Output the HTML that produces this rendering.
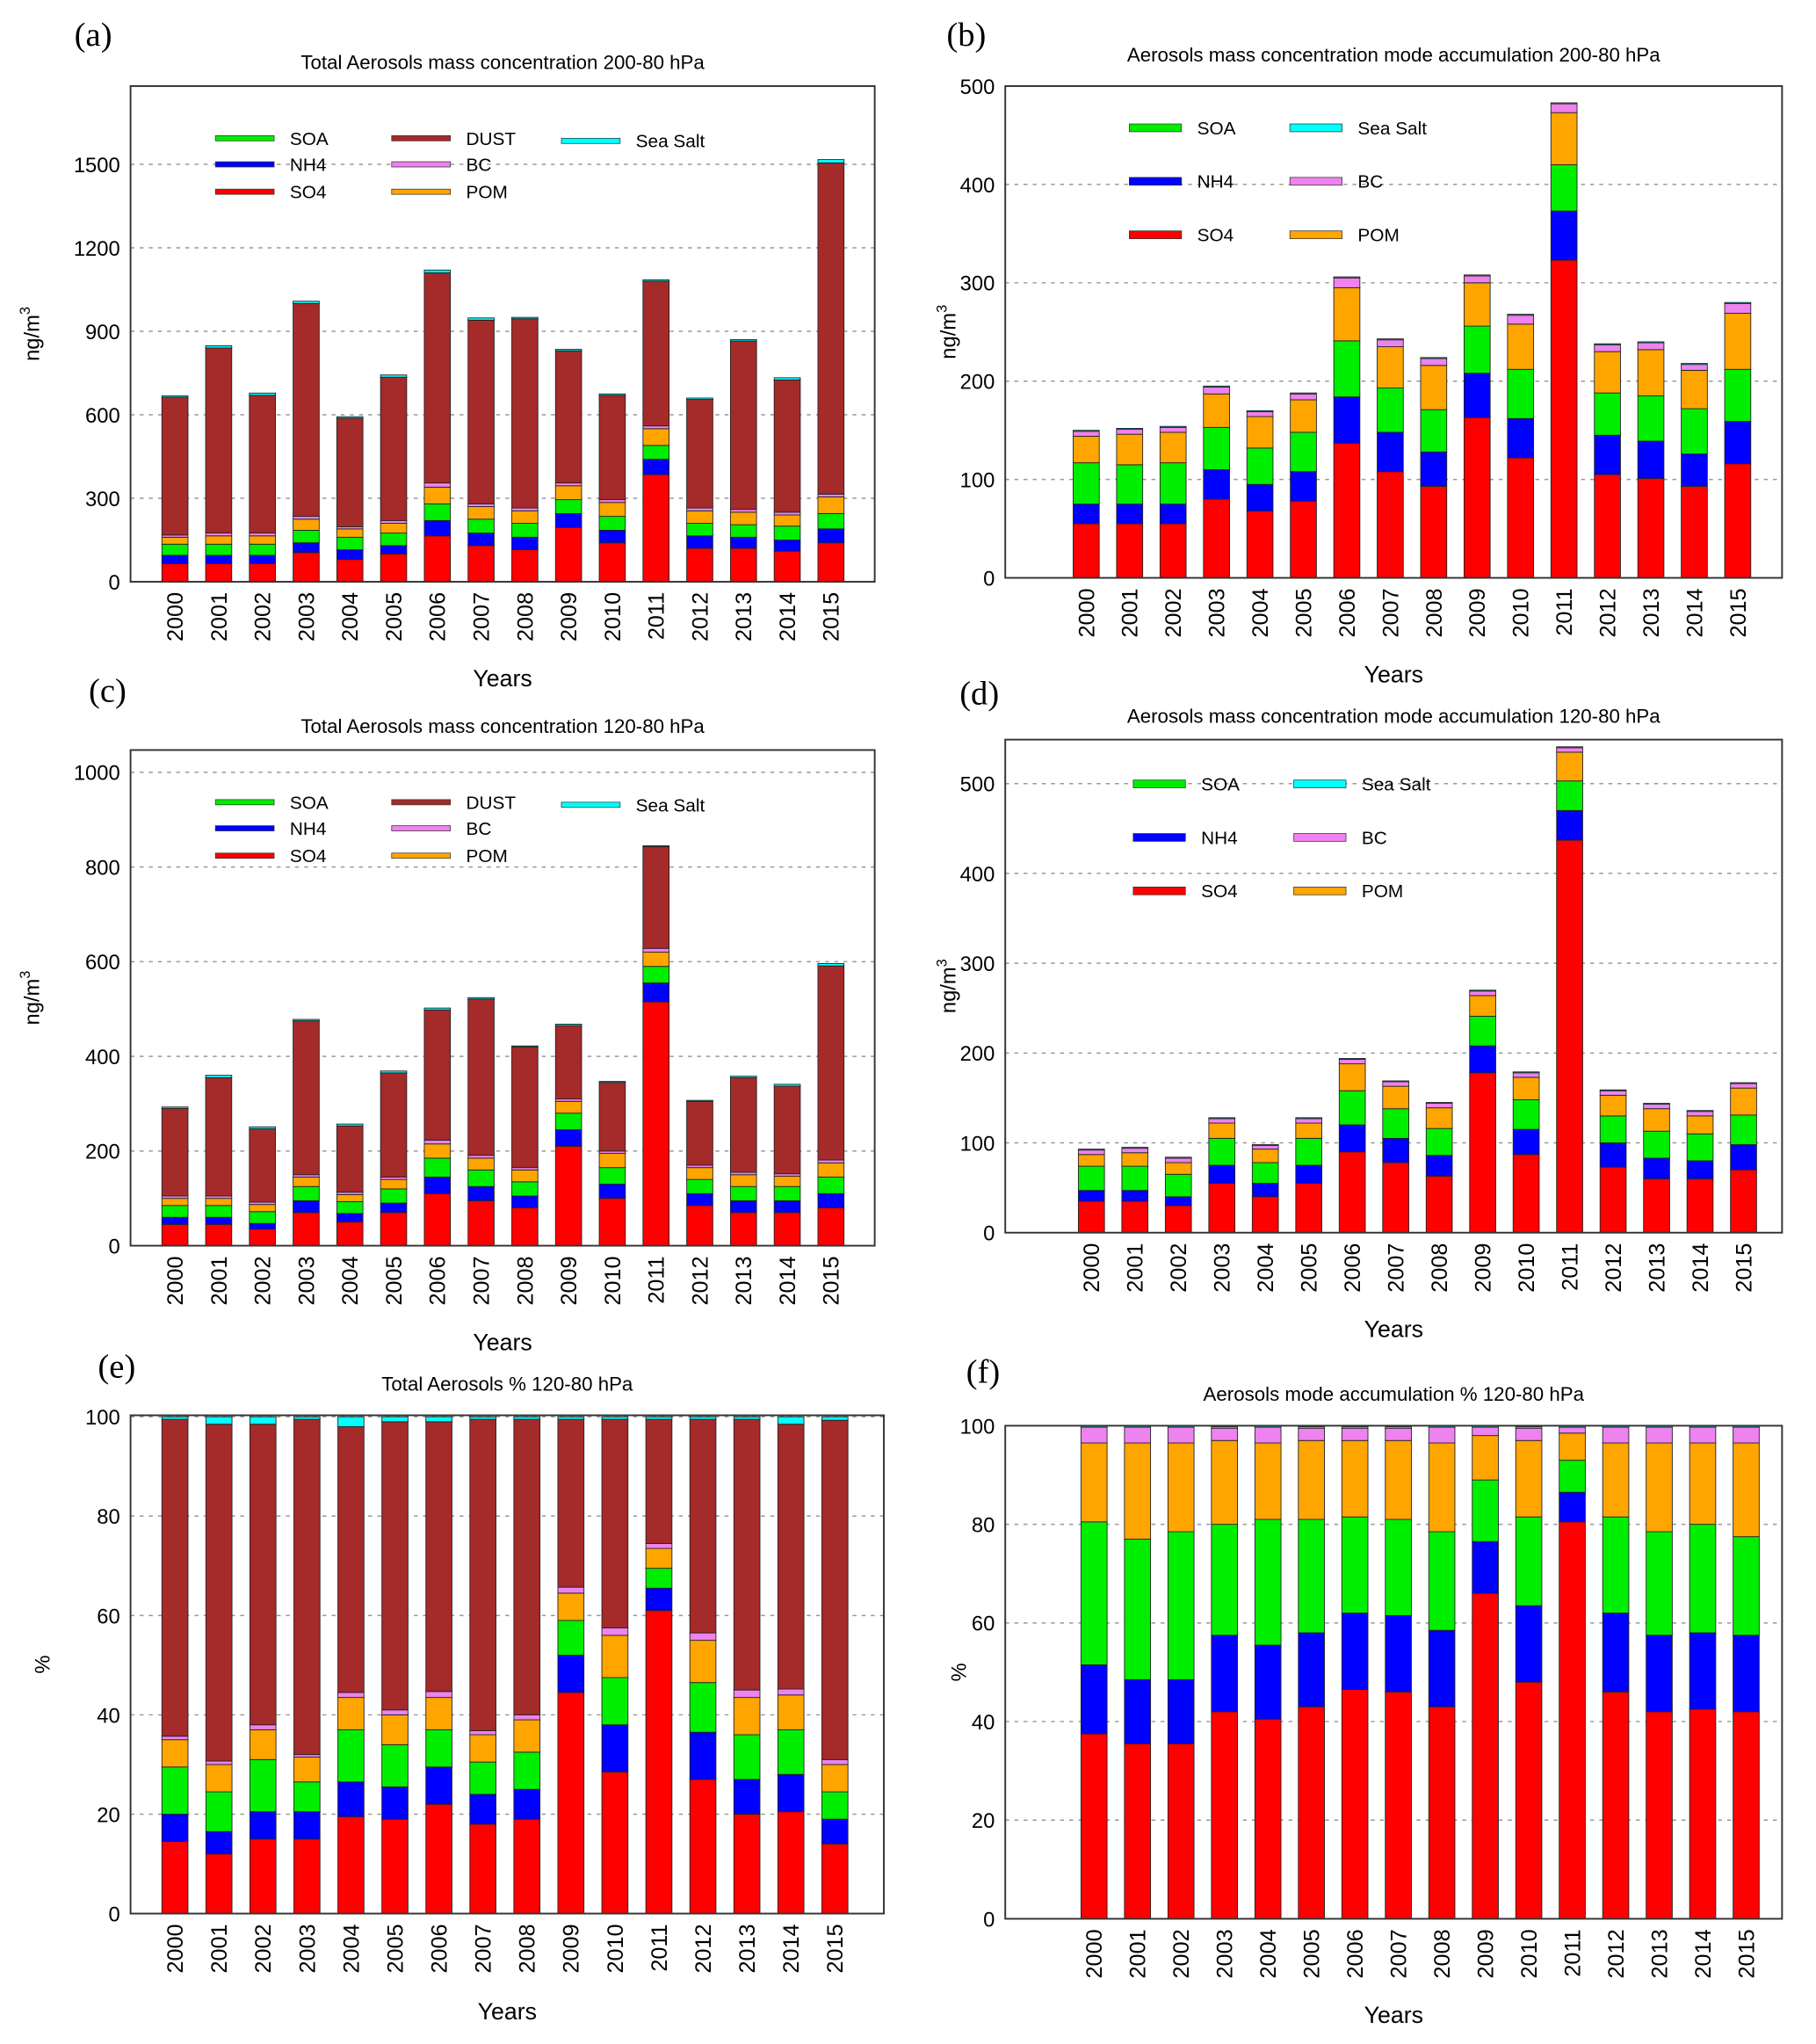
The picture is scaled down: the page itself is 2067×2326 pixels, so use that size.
<!DOCTYPE html>
<html><head><meta charset="utf-8"><style>
html,body{margin:0;padding:0;background:#fff}
svg{display:block;font-family:"Liberation Sans",sans-serif}
</style></head><body>
<svg id="fig" width="2067" height="2326" viewBox="0 0 1391 1567" preserveAspectRatio="none" xmlns="http://www.w3.org/2000/svg"></svg>
<script>
const years=["2000","2001","2002","2003","2004","2005","2006","2007","2008","2009","2010","2011","2012","2013","2014","2015"];
// (a) 200-80 hPa totals
const aSO4=[65,65,65,105,80,100,165,130,115,195,140,385,120,120,110,140];
const aNH4=[30,30,30,35,35,30,55,45,45,50,45,55,45,40,40,50];
const aSOA=[40,40,40,45,45,45,60,50,50,50,50,50,45,45,50,55];
const aPOM=[25,30,30,40,30,35,60,45,45,50,50,60,45,45,40,60];
const aBC=[8,10,10,10,8,10,15,10,10,10,10,10,10,10,10,10];
const aDUST=[495,665,495,765,390,515,755,660,680,475,375,520,390,605,475,1190];
const aSS=[5,8,8,8,5,8,10,8,5,5,5,5,5,5,8,12];
// (b) accumulation 200-80
const bSO4=[55,55,55,80,68,78,137,108,93,163,122,323,105,101,93,116];
const bNH4=[20,20,20,30,27,30,47,40,35,45,40,50,40,38,33,43];
const bSOA=[42,40,42,43,37,40,57,45,43,48,50,47,43,46,46,53];
const bPOM=[27,31,31,34,32,33,54,42,45,44,46,53,42,47,39,57];
const bBC=[5,5,5,7,5,6,10,7,7,7,9,9,7,7,6,10];
const bSS=[1,1,1,1,1,1,1,1,1,1,1,1,1,1,1,1];
// (c) totals 120-80
const cSO4=[45,45,35,70,50,70,110,95,80,210,100,515,85,70,70,80];
const cNH4=[15,15,12,25,18,20,35,30,25,35,30,40,25,25,25,30];
const cSOA=[25,25,25,30,25,30,40,35,30,35,35,35,30,30,30,35];
const cPOM=[15,15,15,20,15,20,30,25,25,25,30,30,25,25,22,30];
const cBC=[5,5,5,5,5,5,8,6,5,5,5,8,5,5,5,6];
const cDUST=[185,250,155,325,140,220,275,330,255,155,145,215,135,200,185,410];
const cSS=[3,5,4,3,4,4,4,3,2,3,2,2,2,3,4,5];
// (d) accumulation 120-80
const dSO4=[35,35,30,55,40,55,90,78,63,178,87,437,73,60,60,70];
const dNH4=[12,12,10,20,15,20,30,27,23,30,28,33,27,23,20,28];
const dSOA=[27,27,25,30,23,30,38,33,30,33,33,33,30,30,30,33];
const dPOM=[13,15,13,17,15,17,30,25,23,23,25,32,23,25,20,30];
const dBC=[5,5,5,5,4,5,5,5,5,5,5,5,5,5,5,5];
const dSS=[1,1,1,1,1,1,1,1,1,1,1,1,1,1,1,1];
// (e) percent totals
const eSO4=[14.5,12,15,15,19.5,19,22,18,19,44.5,28.5,61,27,20,20.5,14];
const eNH4=[5.5,4.5,5.5,5.5,7,6.5,7.5,6,6,7.5,9.5,4.5,9.5,7,7.5,5];
const eSOA=[9.5,8,10.5,6,10.5,8.5,7.5,6.5,7.5,7,9.5,4,10,9,9,5.5];
const ePOM=[5.5,5.5,6,5,6.5,6,6.5,5.5,6.5,5.5,8.5,4,8.5,7.5,7,5.5];
const eBC=[0.7,0.7,1,0.5,1,1,1.2,0.8,1,1.2,1.5,1,1.5,1.5,1.2,1];
const eDUST=[63.8,67.8,60.5,67.5,53.5,58,54.3,62.7,59.5,33.8,42,25,43,54.5,53.3,68.3];
const eSS=[0.5,1.5,1.5,0.5,2,1,1,0.5,0.5,0.5,0.5,0.5,0.5,0.5,1.5,0.7];
// (f) percent accumulation
const fSO4=[37.5,35.5,35.5,42,40.5,43,46.5,46,43,66,48,80.5,46,42,42.5,42];
const fNH4=[14,13,13,15.5,15,15,15.5,15.5,15.5,10.5,15.5,6,16,15.5,15.5,15.5];
const fSOA=[29,28.5,30,22.5,25.5,23,19.5,19.5,20,12.5,18,6.5,19.5,21,22,20];
const fPOM=[16,19.5,18,17,15.5,16,15.5,16,18,9,15.5,5.5,15,18,16.5,19];
const fBC=[3.2,3.2,3.2,2.5,3.2,2.5,2.5,2.5,3.2,1.7,2.5,1.2,3.2,3.2,3.2,3.2];
const fSS=[0.3,0.3,0.3,0.3,0.3,0.3,0.3,0.3,0.3,0.3,0.3,0.3,0.3,0.3,0.3,0.3];

const COL={SO4:"#ff0000",NH4:"#0000ff",SOA:"#00ee00",POM:"#ffa500",BC:"#ee82ee",DUST:"#a52a2a","Sea Salt":"#00ffff"};
const svg=document.getElementById('fig');
const NS="http://www.w3.org/2000/svg";
function mk(tag,attrs,parent){const e=document.createElementNS(NS,tag);for(const k in attrs)e.setAttribute(k,attrs[k]);(parent||svg).appendChild(e);return e;}
function txt(s,attrs,parent){const e=mk('text',attrs,parent);e.textContent=s;return e;}

function panel(o){
  const g=mk('g',{});
  
  
  const y=v=>o.bot-(v/o.vmax)*(o.bot-o.top);
  const x=i=>o.first+i*o.step;
  for(let t=o.tstep;t<=o.tmax;t+=o.tstep){
    const gl=mk('line',{x1:o.x0,x2:o.x1,y1:y(t),y2:y(t),stroke:"#999","stroke-width":1,"stroke-dasharray":"3,4"},g);
    
    
  }
  years.forEach((yr,i)=>{
    let acc=0;
    o.series.forEach(s=>{
      const v=s.vals[i];
      const r=mk('rect',{x:x(i)-10,y:y(acc+v),width:20,height:Math.max(0,y(acc)-y(acc+v)),fill:COL[s.name],stroke:"#222","stroke-width":0.6},g);
      
      
      acc+=v;
    });
    const xl=txt(yr,{x:0,y:0,transform:`translate(${x(i)+6},${o.bot+8}) rotate(-90)`,"text-anchor":"end","font-size":17},g);
    
    
  });
  const fr=mk('rect',{x:o.x0,y:o.top,width:o.x1-o.x0,height:o.bot-o.top,fill:"none",stroke:"#333","stroke-width":1.3},g);
  
  
  for(let t=0;t<=o.tmax;t+=o.tstep){
    const yl=txt(String(t),{x:o.x0-8,y:y(t)+6,"text-anchor":"end","font-size":16},g);
    
    
  }
  const tt=txt(o.title,{x:(o.x0+o.x1)/2,y:o.titleY,"text-anchor":"middle","font-size":15},g);
  
  
  const pl=txt(o.label,{x:o.lx,y:o.ly,"font-size":26,"font-family":"Liberation Serif, serif"},g);
  
  
  const xt=txt("Years",{x:(o.x0+o.x1)/2,y:o.yearsY,"text-anchor":"middle","font-size":18},g);
  
  
  const yt=mk('text',{transform:`translate(${o.ytx},${(o.top+o.bot)/2}) rotate(-90)`,"text-anchor":"middle","font-size":16},g);
  
  
  if(o.pct){yt.textContent="%";}
  else{yt.textContent="ng/m";const sp=mk('tspan',{"font-size":11,dy:-7},yt);sp.textContent="3";}
  if(o.leg){
    o.leg.forEach(L=>{
      const lg=mk('g',{},g);
      
      
      mk('rect',{x:L.x,y:L.y-o.lh/2,width:o.lw,height:o.lh,fill:COL[L.n],stroke:"#333","stroke-width":0.5},lg);
      txt(L.n,{x:L.x+o.lw+12,y:L.y+5,"font-size":14},lg);
    });
  }
}
const legA=(dy)=>[{n:"SOA",x:165,y:106+dy},{n:"NH4",x:165,y:126+dy},{n:"SO4",x:165,y:147+dy},{n:"DUST",x:300,y:106+dy},{n:"BC",x:300,y:126+dy},{n:"POM",x:300,y:147+dy},{n:"Sea Salt",x:430,y:108+dy}];
const legB=(x1,x2,y0)=>[{n:"SOA",x:x1,y:y0},{n:"NH4",x:x1,y:y0+41},{n:"SO4",x:x1,y:y0+82},{n:"Sea Salt",x:x2,y:y0},{n:"BC",x:x2,y:y0+41},{n:"POM",x:x2,y:y0+82}];
const S=(a,b,c,d,e,f,g)=>{const r=[{name:"SO4",vals:a},{name:"NH4",vals:b},{name:"SOA",vals:c},{name:"POM",vals:d},{name:"BC",vals:e}];if(f)r.push({name:"DUST",vals:f});r.push({name:"Sea Salt",vals:g});return r;};

panel({id:"a",x0:100,x1:670,top:66,bot:446,vmax:1781,tmax:1500,tstep:300,first:134,step:33.5,series:S(aSO4,aNH4,aSOA,aPOM,aBC,aDUST,aSS),title:"Total Aerosols mass concentration 200-80 hPa",titleY:53,label:"(a)",lx:57,ly:35,yearsY:526,ytx:30,leg:legA(0),lw:45,lh:4});
panel({id:"b",x0:770,x1:1365,top:66,bot:443,vmax:500,tmax:500,tstep:100,first:832,step:33.27,series:S(bSO4,bNH4,bSOA,bPOM,bBC,null,bSS),title:"Aerosols mass concentration mode accumulation 200-80 hPa",titleY:47,label:"(b)",lx:725,ly:35,yearsY:523,ytx:732,leg:legB(865,988,98),lw:40,lh:6});
panel({id:"c",x0:100,x1:670,top:575,bot:955,vmax:1047,tmax:1000,tstep:200,first:134,step:33.5,series:S(cSO4,cNH4,cSOA,cPOM,cBC,cDUST,cSS),title:"Total Aerosols mass concentration 120-80 hPa",titleY:562,label:"(c)",lx:68,ly:538,yearsY:1035,ytx:30,leg:legA(509),lw:45,lh:4});
panel({id:"d",x0:770,x1:1365,top:567,bot:945,vmax:549,tmax:500,tstep:100,first:836,step:33.3,series:S(dSO4,dNH4,dSOA,dPOM,dBC,null,dSS),title:"Aerosols mass concentration mode accumulation 120-80 hPa",titleY:554,label:"(d)",lx:735,ly:540,yearsY:1025,ytx:732,leg:legB(868,991,601),lw:40,lh:6});
panel({id:"e",x0:100,x1:677,top:1085,bot:1467,vmax:100.3,tmax:100,tstep:20,first:134,step:33.7,pct:true,series:S(eSO4,eNH4,eSOA,ePOM,eBC,eDUST,eSS),title:"Total Aerosols % 120-80 hPa",titleY:1066,label:"(e)",lx:75,ly:1056,yearsY:1548,ytx:38});
panel({id:"f",x0:770,x1:1365,top:1093,bot:1471,vmax:100,tmax:100,tstep:20,first:838,step:33.3,pct:true,series:S(fSO4,fNH4,fSOA,fPOM,fBC,null,fSS),title:"Aerosols mode accumulation % 120-80 hPa",titleY:1074,label:"(f)",lx:740,ly:1060,yearsY:1551,ytx:740});
</script>
</body></html>
